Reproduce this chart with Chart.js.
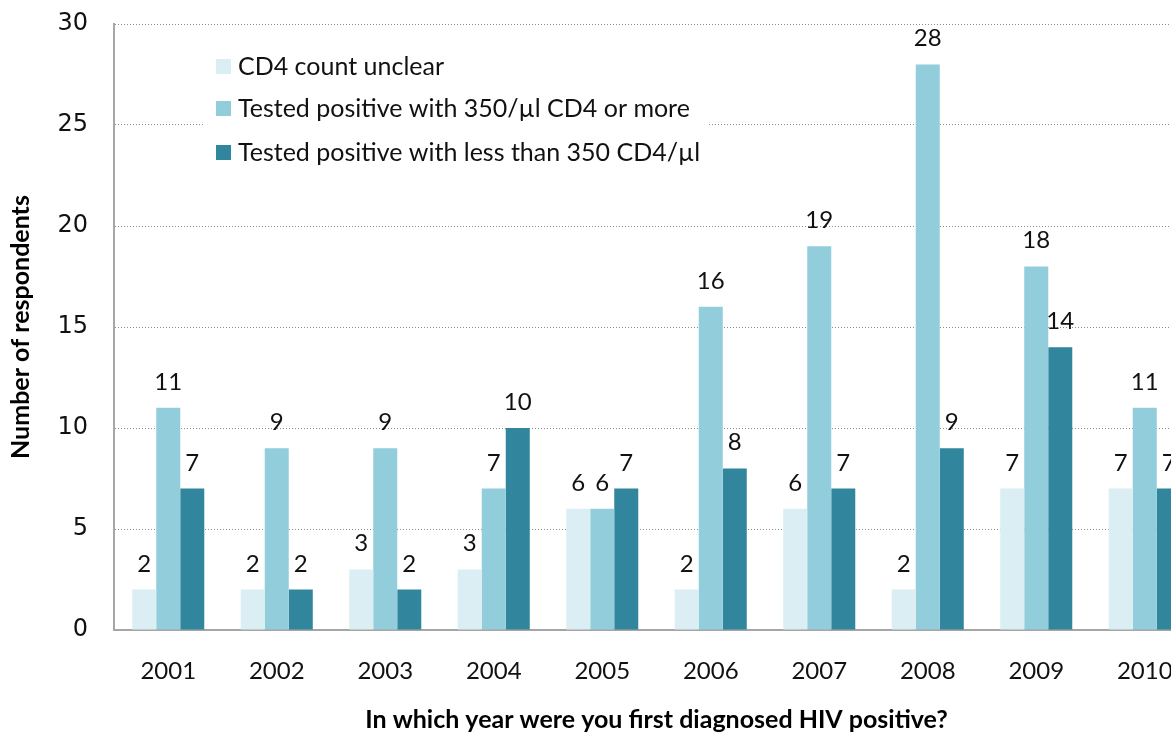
<!DOCTYPE html>
<html>
<head>
<meta charset="utf-8">
<title>Year of first HIV diagnosis</title>
<script src="https://cdn.jsdelivr.net/npm/chart.js@4"></script>
<style>
  html, body { margin: 0; padding: 0; background: #fff; overflow: hidden; }
  #wrap { position: relative; width: 1210px; height: 735px; }
</style>
</head>
<body>
<div id="wrap"><canvas id="chart"></canvas></div>
<script>
const years = ["2001", "2002", "2003", "2004", "2005", "2006", "2007", "2008", "2009", "2010"];
const unclear = [2, 2, 3, 3, 6, 2, 6, 2, 7, 7];
const cd4High = [11, 9, 9, 7, 6, 16, 19, 28, 18, 11];
const cd4Low = [7, 2, 2, 10, 7, 8, 7, 9, 14, 7];
const seriesNames = [
  "CD4 count unclear",
  "Tested positive with 350/\u00b5l CD4 or more",
  "Tested positive with less than 350 CD4/\u00b5l",
];
const colors = ["#DAEEF3", "#92CDDC", "#31859C"];

// numbers above each bar
const barLabels = {
  id: "barLabels",
  afterDatasetsDraw(chart) {
    const ctx = chart.ctx;
    ctx.save();
    ctx.font = "24px Lato";
    ctx.fillStyle = "#111";
    ctx.textAlign = "center";
    ctx.textBaseline = "alphabetic";
    chart.data.datasets.forEach((ds, i) => {
      chart.getDatasetMeta(i).data.forEach((bar, j) => {
        ctx.fillText(String(ds.data[j]), bar.x, bar.y - 18);
      });
    });
    ctx.restore();
  },
};

// legend box sits inside the plot area, over the grid
const innerLegend = {
  id: "innerLegend",
  beforeDatasetsDraw(chart) {
    const ctx = chart.ctx;
    ctx.save();
    ctx.fillStyle = "#fff";
    ctx.fillRect(203, 40, 505, 132);
    ctx.font = "25px Lato";
    ctx.textBaseline = "middle";
    ctx.textAlign = "left";
    const rows = [66, 108, 152];
    chart.data.datasets.forEach((ds, i) => {
      ctx.fillStyle = ds.backgroundColor;
      ctx.fillRect(216, rows[i] - 7, 15, 15);
      ctx.fillStyle = "#111";
      ctx.fillText(ds.label, 238, rows[i] + 1);
    });
    ctx.restore();
  },
};

new Chart(document.getElementById("chart"), {
  type: "bar",
  data: {
    labels: years,
    datasets: [unclear, cd4High, cd4Low].map((d, i) => ({
      label: seriesNames[i],
      data: d,
      backgroundColor: colors[i],
      categoryPercentage: 0.664,
      barPercentage: 1,
    })),
  },
  options: {
    responsive: true,
    maintainAspectRatio: false,
    animation: false,
    layout: { padding: { top: 24, right: 11, left: 0, bottom: 0 } },
    plugins: {
      legend: { display: false },
      tooltip: { enabled: false },
    },
    scales: {
      x: {
        afterFit: (s) => { s.height = 105; },
        grid: { display: false },
        border: { display: true, color: "#A6A6A6", width: 2 },
        ticks: { color: "#111", font: { family: "Lato", size: 24 }, padding: 19 },
        title: {
          display: true,
          text: "In which year were you first diagnosed HIV positive?",
          color: "#000",
          font: { family: "Lato", size: 25, weight: "bold" },
          padding: { top: 0, bottom: 0 },
        },
      },
      y: {
        min: 0,
        max: 30,
        afterFit: (s) => { s.width = 114; s.paddingTop = 0; s.paddingBottom = 0; },
        grid: { color: "#8C8C8C", drawTicks: false, lineWidth: 1 },
        border: { display: true, color: "#A6A6A6", width: 2, dash: [1, 2] },
        ticks: { stepSize: 5, color: "#111", font: { family: "DejaVu Sans", size: 24 }, padding: 26 },
        title: {
          display: true,
          text: "Number of respondents",
          color: "#000",
          font: { family: "Lato", size: 25, weight: "bold" },
          padding: { top: 6, bottom: 0 },
        },
      },
    },
  },
  plugins: [barLabels, innerLegend],
});
</script>
</body>
</html>
